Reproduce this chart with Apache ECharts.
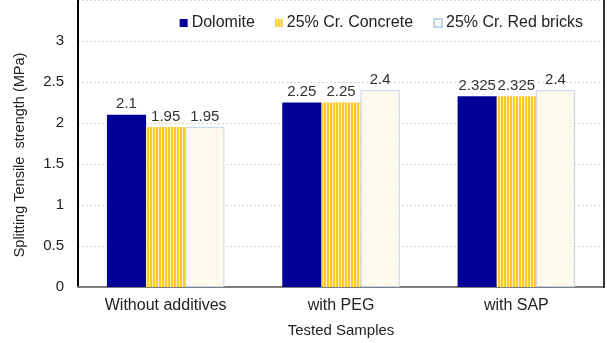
<!DOCTYPE html>
<html>
<head>
<meta charset="utf-8">
<script src="https://cdn.jsdelivr.net/npm/echarts@6/dist/echarts.min.js"></script>
<style>
  html, body { margin: 0; padding: 0; background: #fff; }
  #chart { width: 607px; height: 343px; }
</style>
</head>
<body>
<div id="chart"></div>
<script>
// Splitting tensile strength by sample type
const categories = ['Without additives', 'with PEG', 'with SAP'];
const seriesNames = ['Dolomite', '25% Cr. Concrete', '25% Cr. Red bricks'];
const dolomite = [2.1, 2.25, 2.325];
const crConcrete = [1.95, 2.25, 2.325];
const crRedBricks = [1.95, 2.4, 2.4];
const yTitle = 'Splitting Tensile  strength (MPa)';
const xTitle = 'Tested Samples';

// Vertical gold stripe fill
function stripeCanvas() {
  const c = document.createElement('canvas');
  c.width = 3; c.height = 4;
  const g = c.getContext('2d');
  g.fillStyle = '#FFF0BE'; g.fillRect(0, 0, 3, 4);
  g.fillStyle = '#FFC829'; g.fillRect(0, 0, 2, 4);
  return c;
}
// Pale dotted fill
function dotCanvas() {
  const c = document.createElement('canvas');
  c.width = 3; c.height = 3;
  const g = c.getContext('2d');
  g.fillStyle = '#FFFAF0'; g.fillRect(0, 0, 3, 3);
  g.fillStyle = '#FDEFCB'; g.fillRect(0, 0, 1, 1);
  return c;
}

const font = 'Liberation Sans, Arial, sans-serif';
const labelStyle = { show: true, position: 'top', distance: 3, fontSize: 15, color: '#333', fontFamily: font };

const chart = echarts.init(document.getElementById('chart'), null, { renderer: 'canvas' });
chart.setOption({
  animation: false,
  backgroundColor: '#fff',
  textStyle: { fontFamily: font },
  legend: {
    data: seriesNames,
    right: 19, top: 10,
    itemWidth: 8, itemHeight: 8, itemGap: 20,
    icon: 'rect',
    textStyle: { fontSize: 16, color: '#222', fontFamily: font, padding: [0, 0, 0, -1] }
  },
  grid: { left: 78, right: 3, top: -1, bottom: 55 },
  xAxis: {
    type: 'category',
    data: categories,
    name: xTitle,
    nameLocation: 'middle',
    nameGap: 36,
    nameTextStyle: { fontSize: 15, color: '#222' },
    axisLine: { lineStyle: { color: '#7f7f7f', width: 2 } },
    axisTick: { show: false },
    axisLabel: { fontSize: 16, color: '#222', margin: 11 }
  },
  yAxis: {
    type: 'value',
    min: 0, max: 3.5, interval: 0.5,
    axisLine: { show: true, lineStyle: { color: '#000', width: 2 } },
    axisTick: { show: false },
    axisLabel: { fontSize: 15, color: '#222', margin: 14, showMaxLabel: false },
    splitLine: { lineStyle: { color: '#d9d9d9', type: [2, 2], width: 1 } }
  },
  graphic: [
    {
      type: 'line', z: 10,
      shape: { x1: 604, y1: 0, x2: 604, y2: 288 },
      style: { stroke: '#333', lineWidth: 2 }
    },
    {
      type: 'text', x: 20, y: 155, rotation: Math.PI / 2,
      style: { text: yTitle, fontSize: 14.5, fill: '#222', fontFamily: font, align: 'center', verticalAlign: 'middle' }
    }
  ],
  series: [
    {
      name: seriesNames[0], type: 'bar', data: dolomite,
      barGap: '0%', barCategoryGap: '33%',
      itemStyle: { color: '#000099' },
      label: labelStyle
    },
    {
      name: seriesNames[1], type: 'bar', data: crConcrete,
      itemStyle: { color: { image: stripeCanvas(), repeat: 'repeat' } },
      label: labelStyle
    },
    {
      name: seriesNames[2], type: 'bar', data: crRedBricks,
      itemStyle: { color: { image: dotCanvas(), repeat: 'repeat' }, borderColor: '#BDD7EE', borderWidth: 1 },
      label: labelStyle
    }
  ]
});
</script>
</body>
</html>
